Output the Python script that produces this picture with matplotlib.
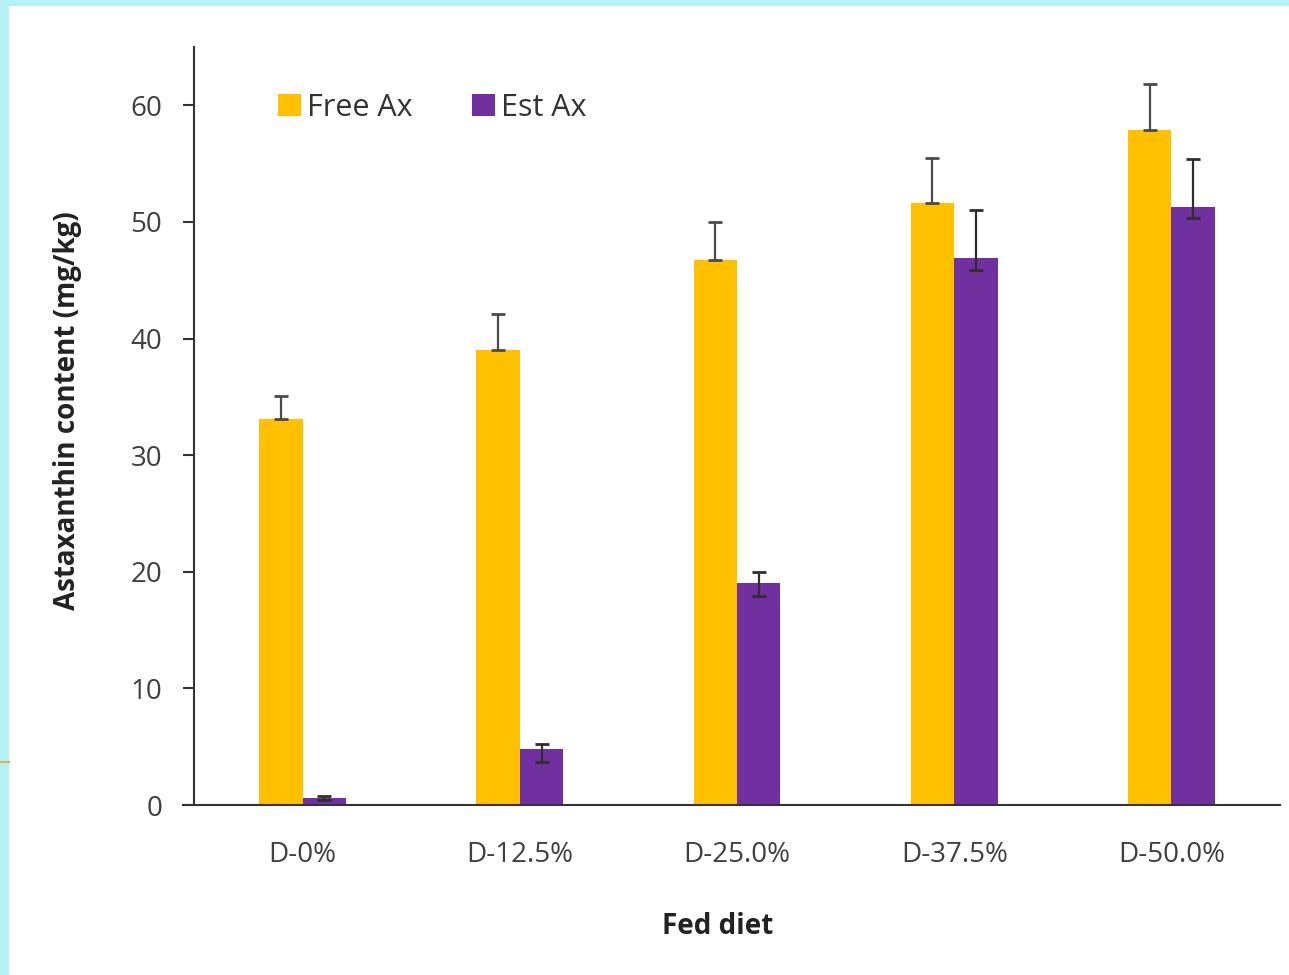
import numpy as np
import matplotlib
matplotlib.use("Agg")
import matplotlib.pyplot as plt
from matplotlib.patches import Rectangle
from matplotlib.lines import Line2D

# data
diets = ["D-0%", "D-12.5%", "D-25.0%", "D-37.5%", "D-50.0%"]
free_ax = [33.1, 39.0, 46.7, 51.6, 57.9]
free_err = [2.0, 3.1, 3.3, 3.9, 3.9]
est_ax = [0.6, 4.8, 19.0, 46.9, 51.3]
est_err_up = [0.2, 0.4, 1.0, 4.1, 4.1]
est_err_low = [0.2, 1.1, 1.1, 1.0, 1.0]

plt.rcParams['font.family'] = ['Open Sans', 'DejaVu Sans']

fig = plt.figure(figsize=(12.89, 9.75), dpi=100)
fig.patch.set_facecolor("#b3f1f5")
# white slide area with the cyan border top and left
fig.patches.append(Rectangle((9 / 1289, 0), 1, 1 - 6 / 975, transform=fig.transFigure,
                             facecolor="white", edgecolor="none", zorder=-5))
fig.lines.append(Line2D([0, 9 / 1289], [1 - 762 / 975] * 2, transform=fig.transFigure,
                        color="#e0b060", lw=1.5, zorder=-4))

ax = fig.add_axes([194 / 1289, 170 / 975, 1086 / 1289, 758 / 975])
ax.set_facecolor("none")

x = np.arange(len(diets))
w = 0.2
ax.bar(x - w / 2, free_ax, w, color="#FFC000", label="Free Ax", zorder=2)
ax.bar(x + w / 2, est_ax, w, color="#7030A0", label="Est Ax", zorder=2)
ax.errorbar(x - w / 2, free_ax, yerr=[np.zeros(len(free_ax)), free_err], fmt="none",
            ecolor="#4a4a4a", elinewidth=1.6, capsize=5, capthick=2, zorder=3)
ax.errorbar(x + w / 2, est_ax, yerr=[est_err_low, est_err_up], fmt="none",
            ecolor="#2e2e2e", elinewidth=1.6, capsize=5, capthick=2, zorder=3)

ax.set_xlim(-0.5, len(diets) - 0.5)
ax.set_ylim(0, 65)
ax.set_yticks(range(0, 61, 10))
ax.set_xticks(x)
ax.set_xticklabels(diets)
ax.tick_params(axis="y", length=8, width=1.5, direction="out", pad=15,
               labelsize=20, labelcolor="#404040", color="#333333")
ax.tick_params(axis="x", length=0, pad=26, labelsize=20, labelcolor="#404040")

for s in ["top", "right"]:
    ax.spines[s].set_visible(False)
ax.spines["left"].set_linewidth(1.5)
ax.spines["bottom"].set_linewidth(1.5)
ax.spines["left"].set_color("#333333")
ax.spines["bottom"].set_color("#333333")
ax.spines["bottom"].set_bounds(-0.55, len(diets) - 0.5)
ax.spines["bottom"].set_clip_on(False)

ax.set_xlabel("Fed diet", fontsize=20, fontweight="bold", color="#222222", labelpad=31)
ax.set_ylabel("Astaxanthin content (mg/kg)", fontsize=20, fontweight="bold",
              color="#222222", labelpad=35)
ax.xaxis.label.set_x(0.482)
ax.yaxis.label.set_y(0.52)

ax.legend(loc="center left", bbox_to_anchor=(0.052, 0.92), ncol=2, frameon=False,
          fontsize=22, handlelength=0.75, handleheight=0.75, handletextpad=0.2,
          columnspacing=1.95, labelcolor="#333333")

fig.savefig("out.png", dpi=100)
